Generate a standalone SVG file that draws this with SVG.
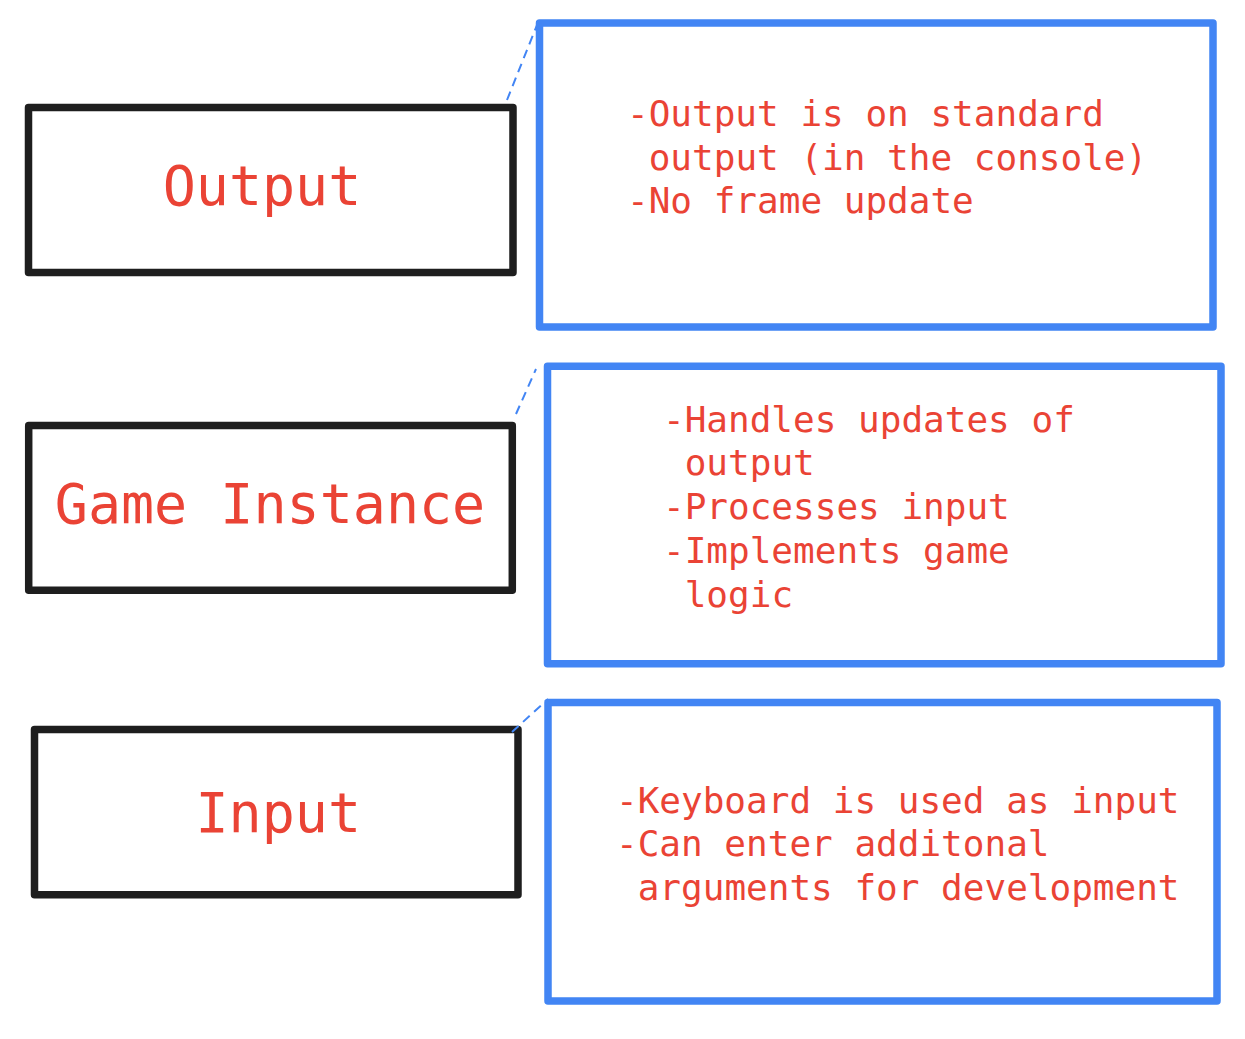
<svg xmlns="http://www.w3.org/2000/svg" width="1245" height="1039" viewBox="0 0 1245 1039">
<style>
.blk{fill:none;stroke:#1e1e1e;stroke-width:7.5;stroke-linejoin:round}
.blu{fill:none;stroke:#4285f4;stroke-width:7.5;stroke-linejoin:round}
.big{font-family:"DejaVu Sans Mono","Liberation Mono",monospace;font-size:55px;fill:#ea4335;text-anchor:middle}
.sm{font-family:"DejaVu Sans Mono","Liberation Mono",monospace;font-size:36px;fill:#ea4335}
.dash{stroke:#4285f4;stroke-width:2;stroke-dasharray:9 6;fill:none}
</style>
<rect width="1245" height="1039" fill="#ffffff"/>
<g id="output">
<rect class="blk" x="28.5" y="107.5" width="484.5" height="165"/>
<text class="big" x="262" y="205">Output</text>
</g>
<g id="output-note">
<rect class="blu" x="539.5" y="23" width="673.5" height="304"/>
<text class="sm"><tspan x="627" y="126">-Output is on standard</tspan><tspan x="648.7" y="169.5">output (in the console)</tspan><tspan x="627" y="213">-No frame update</tspan></text>
</g>
<g id="game-instance">
<rect class="blk" x="28.7" y="425.5" width="483.6" height="164.8"/>
<text class="big" x="270" y="523.3">Game Instance</text>
</g>
<g id="game-note">
<rect class="blu" x="547.5" y="366.3" width="673.5" height="297.4"/>
<text class="sm"><tspan x="663" y="431.5">-Handles updates of</tspan><tspan x="684.7" y="475.3">output</tspan><tspan x="663" y="519">-Processes input</tspan><tspan x="663" y="562.8">-Implements game</tspan><tspan x="684.7" y="606.5">logic</tspan></text>
</g>
<g id="input">
<rect class="blk" x="34.5" y="729.5" width="483.5" height="165.2"/>
<text class="big" x="278.3" y="831.7">Input</text>
</g>
<g id="input-note">
<rect class="blu" x="548" y="702.5" width="669" height="298.5"/>
<text class="sm"><tspan x="616" y="812.7">-Keyboard is used as input</tspan><tspan x="616" y="856">-Can enter additonal</tspan><tspan x="637.7" y="899.5">arguments for development</tspan></text>
</g>
<g id="connectors">
<line class="dash" x1="507" y1="100" x2="537" y2="25"/>
<line class="dash" x1="516" y1="414" x2="536" y2="369"/>
<line class="dash" x1="512" y1="732" x2="548" y2="699"/>
</g>
</svg>
